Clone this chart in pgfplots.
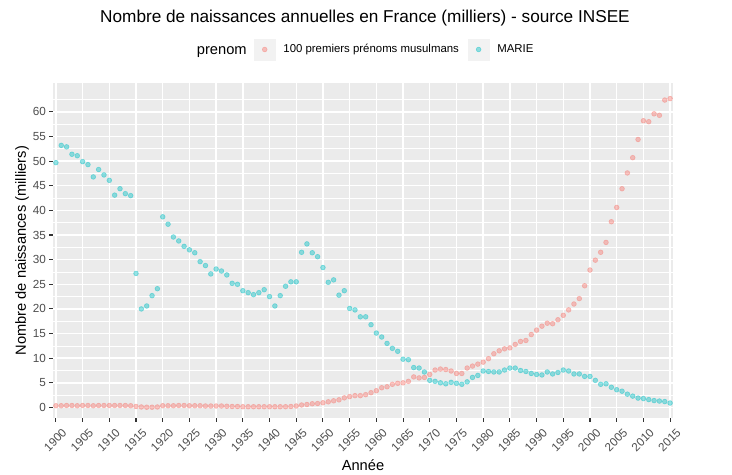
\documentclass[border=0pt]{standalone}
\usepackage{pgfplots}
\pgfplotsset{compat=1.18}
\usepackage{fontspec}
\setmainfont{Liberation Sans}
\definecolor{ggred}{HTML}{F8766D}
\definecolor{ggcyan}{HTML}{00BFC4}
\definecolor{panelbg}{HTML}{EBEBEB}
\definecolor{grey30}{HTML}{4D4D4D}
\definecolor{grey20}{HTML}{333333}
\definecolor{keybg}{HTML}{F2F2F2}

\pgfplotstableread{
year val
1900 0.35
1901 0.35
1902 0.4
1903 0.4
1904 0.35
1905 0.4
1906 0.4
1907 0.35
1908 0.4
1909 0.4
1910 0.4
1911 0.4
1912 0.4
1913 0.4
1914 0.35
1915 0.2
1916 0.1
1917 0.05
1918 0.05
1919 0.1
1920 0.35
1921 0.35
1922 0.35
1923 0.4
1924 0.4
1925 0.35
1926 0.35
1927 0.35
1928 0.3
1929 0.3
1930 0.3
1931 0.3
1932 0.25
1933 0.2
1934 0.2
1935 0.15
1936 0.15
1937 0.15
1938 0.15
1939 0.15
1940 0.15
1941 0.15
1942 0.15
1943 0.15
1944 0.2
1945 0.3
1946 0.5
1947 0.6
1948 0.75
1949 0.8
1950 0.95
1951 1.15
1952 1.35
1953 1.55
1954 1.95
1955 2.2
1956 2.4
1957 2.4
1958 2.6
1959 3.0
1960 3.4
1961 4.0
1962 4.2
1963 4.7
1964 4.9
1965 5.0
1966 5.3
1967 6.2
1968 6.0
1969 6.1
1970 6.7
1971 7.6
1972 7.8
1973 7.7
1974 7.4
1975 6.9
1976 6.9
1977 8.0
1978 8.4
1979 8.8
1980 9.2
1981 9.9
1982 10.9
1983 11.5
1984 11.9
1985 12.1
1986 12.8
1987 13.4
1988 13.6
1989 14.8
1990 15.7
1991 16.5
1992 17.1
1993 17.0
1994 17.8
1995 18.7
1996 19.8
1997 21.0
1998 22.1
1999 24.7
2000 27.9
2001 29.9
2002 31.5
2003 33.5
2004 37.7
2005 40.6
2006 44.4
2007 47.6
2008 50.7
2009 54.4
2010 58.2
2011 58.0
2012 59.6
2013 59.3
2014 62.4
2015 62.7
}\musulmans

\pgfplotstableread{
year val
1900 49.7
1901 53.2
1902 52.9
1903 51.4
1904 51.1
1905 49.9
1906 49.3
1907 46.8
1908 48.3
1909 47.2
1910 46.1
1911 43.1
1912 44.4
1913 43.4
1914 43.0
1915 27.2
1916 20.0
1917 20.6
1918 22.7
1919 24.1
1920 38.7
1921 37.2
1922 34.6
1923 33.8
1924 32.7
1925 32.0
1926 31.4
1927 29.6
1928 28.8
1929 27.1
1930 28.1
1931 27.7
1932 26.9
1933 25.2
1934 25.0
1935 23.7
1936 23.3
1937 22.9
1938 23.3
1939 23.9
1940 22.5
1941 20.6
1942 22.7
1943 24.6
1944 25.5
1945 25.5
1946 31.5
1947 33.2
1948 31.4
1949 30.6
1950 28.4
1951 25.4
1952 25.9
1953 22.8
1954 23.7
1955 20.1
1956 19.8
1957 18.4
1958 18.4
1959 16.8
1960 15.1
1961 14.3
1962 13.0
1963 12.0
1964 11.4
1965 9.8
1966 9.7
1967 8.1
1968 8.0
1969 7.2
1970 5.5
1971 5.3
1972 5.0
1973 4.8
1974 5.1
1975 4.9
1976 4.7
1977 5.2
1978 6.1
1979 6.5
1980 7.4
1981 7.3
1982 7.2
1983 7.2
1984 7.6
1985 8.0
1986 8.0
1987 7.5
1988 7.3
1989 6.9
1990 6.7
1991 6.6
1992 7.2
1993 6.8
1994 7.1
1995 7.6
1996 7.4
1997 6.8
1998 6.8
1999 6.3
2000 6.3
2001 5.5
2002 4.7
2003 4.8
2004 4.1
2005 3.6
2006 3.3
2007 2.7
2008 2.3
2009 1.9
2010 1.8
2011 1.6
2012 1.4
2013 1.3
2014 1.2
2015 0.9
}\marie

\pgfplotsset{
  ggkey/.style={legend image code/.code={
    \fill[keybg] (0bp,-10.5bp) rectangle (21bp,10.5bp);
    \draw[mark repeat=2,mark phase=2,##1] plot coordinates {(0bp,0bp) (10.5bp,0bp) (21bp,0bp)};
  }},
}

\begin{document}
\begin{tikzpicture}
\useasboundingbox (0,0) rectangle (732bp,475bp);
\node[anchor=base, font=\fontsize{17.2bp}{21bp}\selectfont] at (365bp,452bp)
  {Nombre de naissances annuelles en France (milliers) - source INSEE};
\node[anchor=base west, inner sep=0pt, font=\fontsize{14.67bp}{17bp}\selectfont] at (196.7bp,420bp) {prenom};
\begin{axis}[
  at={(52.7bp,56.7bp)}, anchor=south west,
  scale only axis, width=620.6bp, height=335bp,
  xmin=1899.4, xmax=2015.6, ymin=-2.2, ymax=65.8,
  axis background/.style={fill=panelbg},
  axis line style={draw=none},
  xtick={1900,1905,...,2015},
  ytick={0,5,...,60},
  minor ytick={2.5,7.5,...,62.5},
  xmajorgrids, ymajorgrids, yminorgrids,
  major grid style={white, line width=1.45bp},
  minor grid style={white, line width=0.72bp},
  tick align=outside,
  tick pos=left,
  major tick length=3.67bp,
  minor tick length=0pt,
  tick style={grey20, line width=1.1bp},
  /pgf/number format/1000 sep={},
  /pgf/number format/assume math mode=true,
  tick label style={font=\fontsize{11.73bp}{14bp}\selectfont, text=grey30},
  x tick label style={rotate=45, anchor=north east, inner sep=0pt, xshift=0bp, yshift=-8bp},
  y tick label style={anchor=east, inner sep=0pt, xshift=-2.9bp},
  xlabel={Année},
  ylabel={Nombre de naissances (milliers)},
  label style={font=\fontsize{14.67bp}{17bp}\selectfont},
  xlabel style={at={(axis description cs:0.5,-0.1394)}, anchor=center, inner sep=0pt},
  ylabel style={at={(axis description cs:-0.0495,0.5)}, anchor=center, inner sep=0pt},
  legend columns=-1,
  legend style={at={(axis description cs:0.3244,1.1009)}, anchor=west, draw=none, fill=none,
    inner sep=0pt, outer sep=0pt,
    font=\fontsize{11.4bp}{14bp}\selectfont,
    nodes={inner sep=0pt},
    /tikz/every odd column/.append style={column sep=8bp},
    /tikz/every even column/.append style={column sep=9bp}},
  legend cell align=left,
]
\addplot[only marks, mark=*, mark size=2.4bp,
  mark options={draw=ggred, fill=ggred, draw opacity=0.42, fill opacity=0.42, line width=0.6bp}, ggkey]
  table[x=year, y=val] {\musulmans};
\addlegendentry{100 premiers prénoms musulmans}
\addplot[only marks, mark=*, mark size=2.4bp,
  mark options={draw=ggcyan, fill=ggcyan, draw opacity=0.42, fill opacity=0.42, line width=0.6bp}, ggkey]
  table[x=year, y=val] {\marie};
\addlegendentry{MARIE}
\end{axis}
\end{tikzpicture}
\end{document}
